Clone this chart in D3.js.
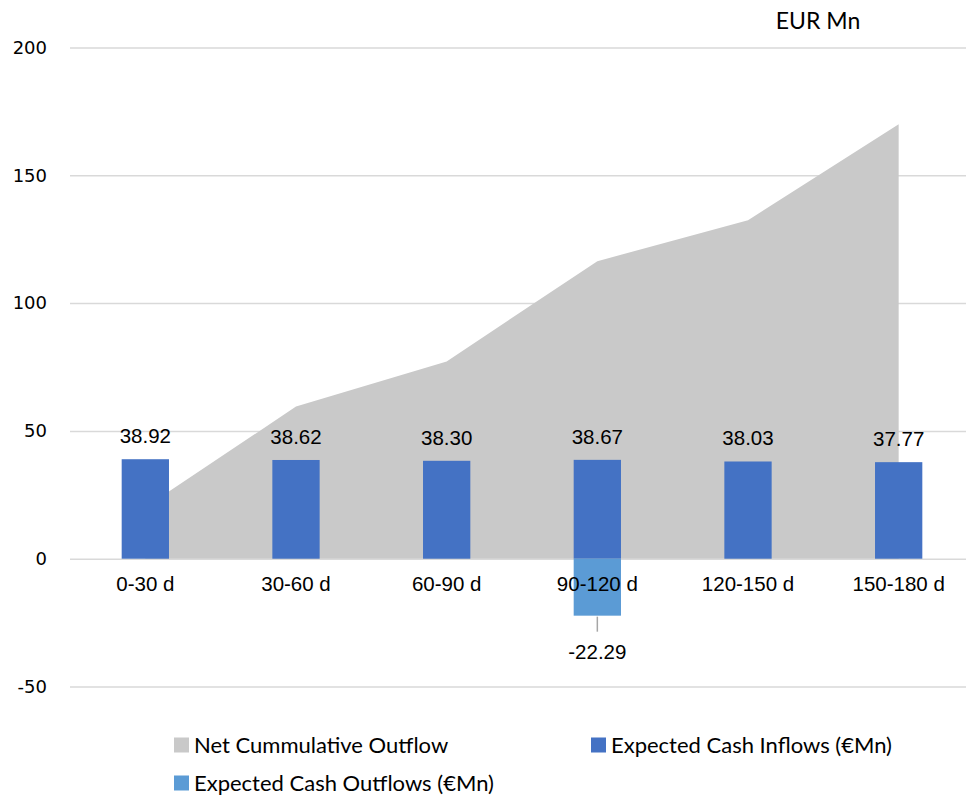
<!DOCTYPE html>
<html>
<head>
<meta charset="utf-8">
<script src="https://cdn.jsdelivr.net/npm/d3@7"></script>
<style>
  body { margin: 0; background: #fff; }
</style>
</head>
<body>
<div id="chart"></div>
<script>
// Data
const categories = ["0-30 d", "30-60 d", "60-90 d", "90-120 d", "120-150 d", "150-180 d"];
const inflows = [38.92, 38.62, 38.30, 38.67, 38.03, 37.77];
const outflows = [0, 0, 0, -22.29, 0, 0];
const netCumulative = [20.1, 59.5, 77.2, 116.4, 132.4, 170.0];
const yTicks = [-50, 0, 50, 100, 150, 200];

const W = 966, H = 797;
const plot = {left: 70, right: 974, top: 47.5, bottom: 686.5};

const svg = d3.select("#chart")
  .append("svg")
    .attr("width", W)
    .attr("height", H);

const x = d3.scaleBand()
    .domain(categories)
    .range([plot.left, plot.right])
    .paddingInner(0)
    .paddingOuter(0);

const y = d3.scaleLinear()
    .domain([-50, 200])
    .range([plot.bottom, plot.top]);

const barW = x.bandwidth() * 0.314;
const cx = d => x(d) + x.bandwidth() / 2;

// Gridlines + y tick labels
const yAxis = svg.append("g")
    .attr("transform", `translate(${plot.left},0)`)
    .call(d3.axisLeft(y)
      .tickValues(yTicks)
      .tickFormat(d => String(d))
      .tickSize(-(plot.right - plot.left))
      .tickPadding(23));
yAxis.select(".domain").remove();
yAxis.selectAll("line").attr("stroke", "#d9d9d9").attr("stroke-width", 1.5);
yAxis.selectAll("text")
    .attr("font-family", "DejaVu Sans, Verdana, sans-serif")
    .attr("font-size", 18)
    .attr("fill", "#000");

// Net cumulative outflow area
const areaData = categories.map((c, i) => ({c: c, v: netCumulative[i]}));
svg.append("path")
    .datum(areaData)
    .attr("fill", "#c9c9c9")
    .attr("d", d3.area()
      .x(d => cx(d.c))
      .y0(y(0))
      .y1(d => y(d.v)));

// Inflow bars
svg.selectAll(".bar.inflow")
    .data(categories)
  .enter().append("rect")
    .attr("class", "bar inflow")
    .attr("x", d => cx(d) - barW / 2)
    .attr("y", (d, i) => y(inflows[i]))
    .attr("width", barW)
    .attr("height", (d, i) => y(0) - y(inflows[i]))
    .attr("fill", "#4472c4");

// Outflow bars
svg.selectAll(".bar.outflow")
    .data(categories)
  .enter().append("rect")
    .attr("class", "bar outflow")
    .attr("x", d => cx(d) - barW / 2)
    .attr("y", y(0))
    .attr("width", barW)
    .attr("height", (d, i) => y(outflows[i]) - y(0))
    .attr("fill", "#5b9bd5");

// Category axis labels (drawn over bars)
const xAxis = svg.append("g")
    .attr("transform", `translate(0,${y(0)})`)
    .call(d3.axisBottom(x).tickSize(0).tickPadding(17.5));
xAxis.select(".domain").remove();
xAxis.selectAll("text")
    .attr("font-family", "Liberation Sans, Arial, sans-serif")
    .attr("font-size", 20.5)
    .attr("fill", "#000");

// Inflow data labels
svg.selectAll(".lbl.inflow")
    .data(categories)
  .enter().append("text")
    .attr("class", "lbl inflow")
    .attr("x", d => cx(d))
    .attr("y", (d, i) => y(inflows[i]) - 16)
    .attr("text-anchor", "middle")
    .attr("font-family", "Liberation Sans, Arial, sans-serif")
    .attr("font-size", 20.5)
    .attr("fill", "#000")
    .text((d, i) => inflows[i].toFixed(2));

// Outflow data labels with leader line
const outIdx = categories.map((c, i) => i).filter(i => outflows[i] !== 0);
svg.selectAll(".leader")
    .data(outIdx)
  .enter().append("line")
    .attr("x1", i => cx(categories[i]))
    .attr("x2", i => cx(categories[i]))
    .attr("y1", i => y(outflows[i]) + 1)
    .attr("y2", i => y(outflows[i]) + 16)
    .attr("stroke", "#a6a6a6")
    .attr("stroke-width", 1.5);
svg.selectAll(".lbl.outflow")
    .data(outIdx)
  .enter().append("text")
    .attr("x", i => cx(categories[i]))
    .attr("y", i => y(outflows[i]) + 43)
    .attr("text-anchor", "middle")
    .attr("font-family", "Liberation Sans, Arial, sans-serif")
    .attr("font-size", 20.5)
    .attr("fill", "#000")
    .text(i => outflows[i].toFixed(2));

// Unit label
svg.append("text")
    .attr("x", 818)
    .attr("y", 28.5)
    .attr("text-anchor", "middle")
    .attr("font-family", "Lato, Calibri, sans-serif")
    .attr("font-size", 23)
    .attr("fill", "#000")
    .text("EUR Mn");

// Legend
const legend = [
  {name: "Net Cummulative Outflow", color: "#c9c9c9", x: 174, y: 745},
  {name: "Expected Cash Inflows (€Mn)", color: "#4472c4", x: 591, y: 745},
  {name: "Expected Cash Outflows (€Mn)", color: "#5b9bd5", x: 174, y: 783}
];
const lg = svg.selectAll(".legend")
    .data(legend)
  .enter().append("g")
    .attr("transform", d => `translate(${d.x},${d.y})`);
lg.append("rect")
    .attr("x", 0)
    .attr("y", -7.5)
    .attr("width", 15)
    .attr("height", 15)
    .attr("fill", d => d.color);
lg.append("text")
    .attr("x", 20)
    .attr("y", 8)
    .attr("font-family", "Lato, Calibri, sans-serif")
    .attr("font-size", 22)
    .attr("fill", "#000")
    .text(d => d.name);
</script>
</body>
</html>
